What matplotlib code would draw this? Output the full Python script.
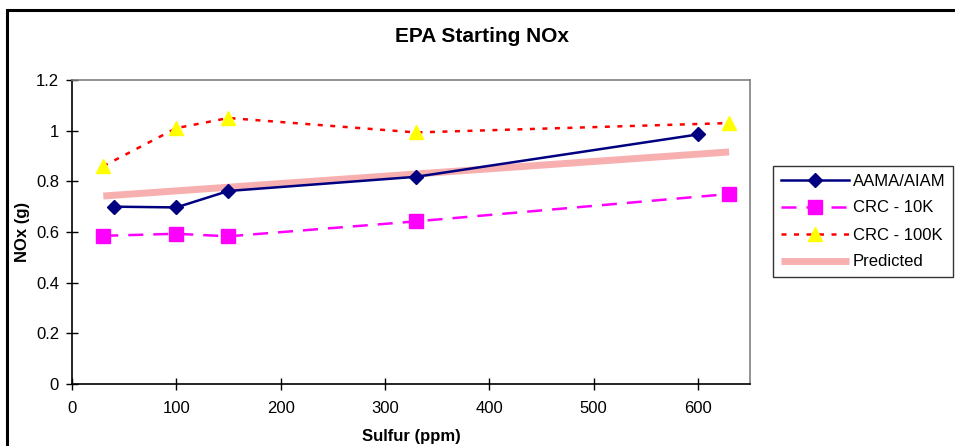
import matplotlib
matplotlib.use("Agg")
import matplotlib.pyplot as plt
from matplotlib.patches import Rectangle

plt.rcParams['font.family'] = ['Liberation Sans', 'DejaVu Sans']

aama_x = [40, 100, 150, 330, 600]
aama_y = [0.700, 0.697, 0.762, 0.818, 0.985]
crc10_x = [30, 100, 150, 330, 630]
crc10_y = [0.585, 0.593, 0.583, 0.642, 0.750]
crc100_x = [30, 100, 150, 330, 630]
crc100_y = [0.860, 1.010, 1.050, 0.993, 1.030]
pred_x = [30, 630]
pred_y = [0.742, 0.916]

fig = plt.figure(figsize=(9.55, 4.46), dpi=100)
ax = fig.add_axes([72/955, 1-384/446, (750-72)/955, (384-80)/446])

ax.plot(pred_x, pred_y, color='#F7AFAF', lw=5, solid_capstyle='butt', label='Predicted', zorder=2)
ax.plot(aama_x, aama_y, color='#000080', lw=1.8, marker='D', ms=7, mfc='#000080', mec='#000080', label='AAMA/AIAM', zorder=3)
ax.plot(crc10_x, crc10_y, color='#FF00FF', lw=1.8, ls=(0, (6, 4)), marker='s', ms=10, mfc='#FF00FF', mec='#FF00FF', label='CRC - 10K', zorder=3)
ax.plot(crc100_x, crc100_y, color='#FF0000', lw=1.8, ls=(0, (2, 3)), marker='^', ms=10, mfc='#FFFF00', mec='#FFFF00', label='CRC - 100K', zorder=3)

ax.set_xlim(0, 650)
ax.set_ylim(0, 1.2)
ax.set_xticks([0, 100, 200, 300, 400, 500, 600])
ax.set_yticks([0, 0.2, 0.4, 0.6, 0.8, 1.0, 1.2])
ax.set_yticklabels(['0', '0.2', '0.4', '0.6', '0.8', '1', '1.2'])
ax.tick_params(axis='both', labelsize=12, direction='inout', length=8.6, width=1, colors='black')
ax.tick_params(axis='x', pad=8)
ax.tick_params(axis='y', pad=5)
for s in ['top', 'right']:
    ax.spines[s].set_color('#808080')
    ax.spines[s].set_linewidth(1.2)
for s in ['left', 'bottom']:
    ax.spines[s].set_color('black')
    ax.spines[s].set_linewidth(1.2)

ax.set_xlabel('Sulfur (ppm)', fontsize=12, fontweight='bold', labelpad=9)
ax.set_ylabel('NOx (g)', fontsize=12, fontweight='bold', labelpad=4)
fig.text(482/955, 1 - 37/446, 'EPA Starting NOx', ha='center', va='center',
         fontsize=15, fontweight='bold')

h, l = ax.get_legend_handles_labels()
order = [1, 2, 3, 0]
leg = fig.legend([h[i] for i in order], [l[i] for i in order],
                 loc='upper left', bbox_to_anchor=(773/955, 1 - 166/446),
                 fontsize=12, frameon=True, fancybox=False, edgecolor='black',
                 handlelength=4.1, handletextpad=0.25, borderpad=0.45, labelspacing=0.72,
                 numpoints=1, borderaxespad=0)
leg.get_frame().set_linewidth(1.0)

fig.patches.append(Rectangle((7/955, -0.1), 1.2, 1 - 10/446 + 0.1, transform=fig.transFigure,
                             fill=False, edgecolor='black', lw=2.2))

fig.savefig('out.png', dpi=100)
